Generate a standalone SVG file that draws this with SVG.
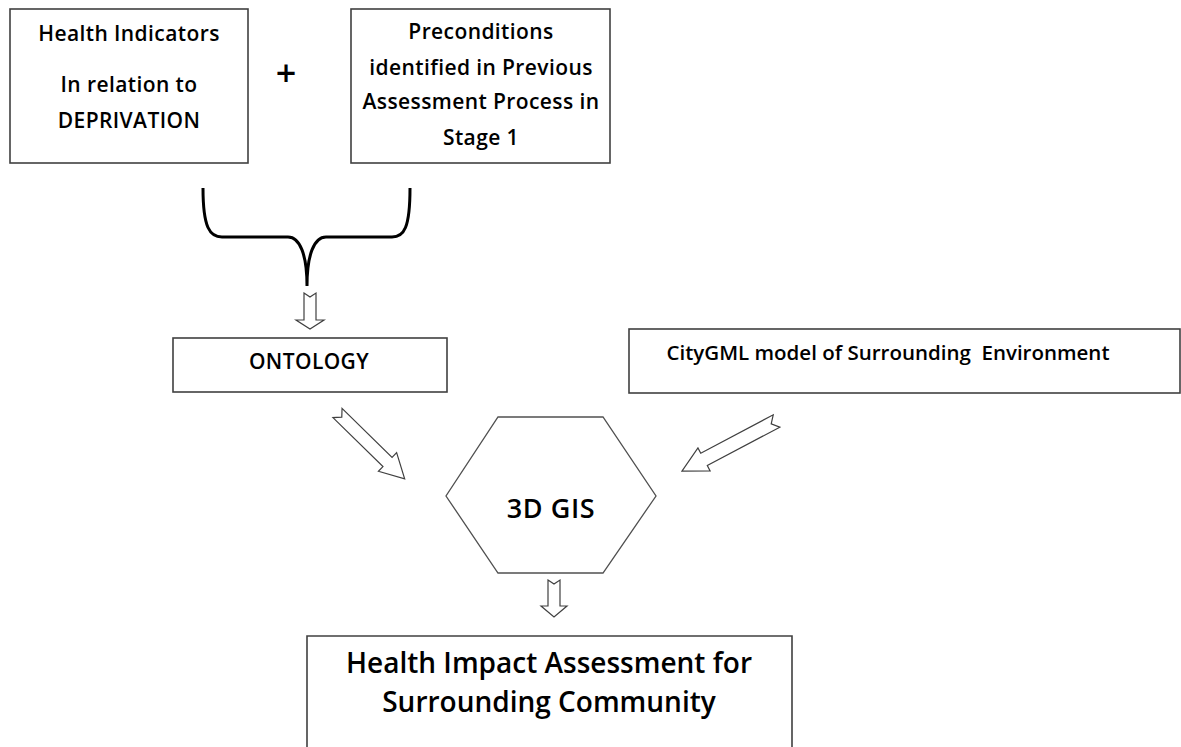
<svg xmlns="http://www.w3.org/2000/svg" width="1181" height="747" viewBox="0 0 1181 747">
  <style>
    .box { fill: #ffffff; stroke: #404040; stroke-width: 1.6; }
    .hex { fill: #ffffff; stroke: #505050; stroke-width: 1.3; }
    .lbl { font-family: "Open Sans", "Liberation Sans", sans-serif; font-weight: 600; fill: #000000; text-anchor: middle; }
    .s21 { font-size: 21px; letter-spacing: 0.4px; }
    .s20 { font-size: 20.5px; }
    .s28 { font-size: 28px; }
    .blk { fill: #ffffff; stroke: #404040; stroke-width: 1.2; stroke-linejoin: miter; }
    .brace { fill: none; stroke: #000000; stroke-width: 3; stroke-linecap: butt; }
  </style>
  <rect width="1181" height="747" fill="#ffffff"/>

  <g id="node-health-indicators">
    <rect class="box" x="10" y="9" width="238" height="154"/>
    <text class="lbl s21" x="129" y="41">Health Indicators</text>
    <text class="lbl s21" x="129" y="92">In relation to</text>
    <text class="lbl s21" x="129" y="128">DEPRIVATION</text>
  </g>

  <g id="node-plus">
    <text class="lbl" x="286" y="86" font-size="36" font-weight="800">+</text>
  </g>

  <g id="node-preconditions">
    <rect class="box" x="351" y="9" width="259" height="154"/>
    <text class="lbl s21" x="481" y="39">Preconditions</text>
    <text class="lbl s21" x="481" y="75">identified in Previous</text>
    <text class="lbl s21" x="481" y="109">Assessment Process in</text>
    <text class="lbl s21" x="481" y="145">Stage 1</text>
  </g>

  <g id="node-ontology">
    <rect class="box" x="173" y="338" width="274" height="54"/>
    <text class="lbl s21" x="309" y="369">ONTOLOGY</text>
  </g>

  <g id="node-citygml">
    <rect class="box" x="629" y="329" width="551" height="64"/>
    <text class="lbl s20" x="888" y="360" xml:space="preserve">CityGML model of Surrounding  Environment</text>
  </g>

  <g id="node-3dgis">
    <polygon class="hex" points="498,417 603,417 656,496 603,573 498,573 446,496"/>
    <text class="lbl" x="551" y="518" font-size="27px" letter-spacing="0.6px">3D GIS</text>
  </g>

  <g id="node-hia">
    <path class="box" d="M307,748 L307,636 L792,636 L792,748"/>
    <text class="lbl s28" x="549" y="673">Health Impact Assessment for</text>
    <text class="lbl s28" x="549" y="712">Surrounding Community</text>
  </g>

  <g id="connectors">
    <!-- curly brace joining the two input boxes -->
    <path class="brace" d="M203,188 C203,228 210,237 222,237 L288,237 C300,237 307,255 307,286 C307,255 314,237 326,237 L392,237 C404,237 410,228 410,188"/>
    <!-- brace to ontology -->
    <path class="blk" d="M304,293 L310,297 L316,293 L316,320 L324,320 L310,329 L296,320 L304,320 Z"/>
    <!-- ontology to 3D GIS -->
    <path class="blk" transform="translate(337.5,413) rotate(44.4)" d="M0,-6.5 L70,-6.5 L70,-13 L94,0 L70,13 L70,6.5 L0,6.5 L6,0 Z"/>
    <!-- CityGML to 3D GIS -->
    <path class="blk" transform="translate(776.5,421) rotate(152.1)" d="M0,-7 L82,-7 L82,-13 L107,0 L82,13 L82,7 L0,7 L6,0 Z"/>
    <!-- 3D GIS to assessment -->
    <path class="blk" d="M548,580 L554,584 L560,580 L560,606 L567,606 L554,617 L541,606 L548,606 Z"/>
  </g>
</svg>
